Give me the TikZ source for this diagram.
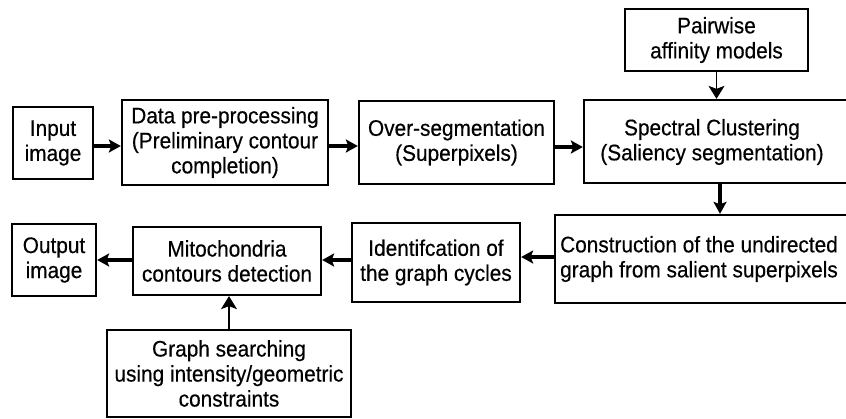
\documentclass[tikz,border=0pt]{standalone}
\usepackage{fontspec}
\setmainfont{Liberation Sans}[FakeStretch=0.925,FakeBold=0.4]
\usetikzlibrary{arrows.meta}
\begin{document}
\begin{tikzpicture}[x=1pt,y=-1pt,
  txt/.style={font=\fontsize{22.5}{25}\selectfont, align=center, inner sep=0pt},
  bbox/.style={draw, line width=2.3pt, inner sep=0pt, txt},
  tbox/.style={draw, line width=1.1pt, inner sep=0pt, txt},
  thickarr/.style={line width=3.8pt, -{Stealth[length=12pt,width=13pt,inset=2.5pt]}},
  thinarr/.style={line width=1.1pt, -{Stealth[length=13pt,width=16pt,inset=3pt]}}]
\useasboundingbox (0,0) rectangle (846,418);
\clip (0,0) rectangle (846,418);
% top row
\node[bbox, minimum width=80pt, minimum height=72pt] (in) at (53,143) {Input\\image};
\node[bbox, minimum width=206pt, minimum height=85pt] (data) at (225,142.5) {Data pre-processing\\(Preliminary contour\\completion)};
\node[bbox, minimum width=195pt, minimum height=83pt] (over) at (456.5,142.5) {Over-segmentation\\(Superpixels)};
\node[bbox, minimum width=268pt, minimum height=83pt] (spec) at (718,141.5) {};
\node[txt] (spect) at (712,142) {Spectral Clustering\\(Saliency segmentation)};
\node[tbox, minimum width=183pt, minimum height=62pt] (pair) at (716.5,40) {Pairwise\\affinity models};
% bottom row
\node[bbox, minimum width=294pt, minimum height=88pt] (cons) at (702,259) {};
\node[txt] (const) at (699,259) {Construction of the undirected\\graph from salient superpixels};
\node[bbox, minimum width=168pt, minimum height=79pt] (iden) at (436,262.5) {Identifcation of\\the graph cycles};
\node[bbox, minimum width=188pt, minimum height=68pt] (mito) at (227,261) {Mitochondria\\contours detection};
\node[bbox, minimum width=84pt, minimum height=72pt] (out) at (54,260) {Output\\image};
\node[tbox, minimum width=244pt, minimum height=87pt] (gs) at (229,373.5) {Graph searching\\using intensity/geometric\\constraints};
% connectors
\draw[thickarr] ([yshift=-3pt]in.east) -- ([yshift=-3pt]in.east -| data.west);
\draw[thickarr] ([yshift=-3.5pt]data.east) -- ([yshift=-3.5pt]data.east -| over.west);
\draw[thickarr] ([yshift=-4.5pt]over.east) -- ([yshift=-4.5pt]over.east -| spec.west);
\draw[thinarr] (pair.south) -- (pair.south |- spec.north);
\draw[thickarr] ([xshift=2pt]spec.south) -- ([xshift=2pt]spec.south |- cons.north);
\draw[thickarr] ([yshift=2pt]cons.west) -- ([yshift=2pt]cons.west -| iden.east);
\draw[thickarr] ([yshift=2.5pt]iden.west) -- ([yshift=2.5pt]iden.west -| mito.east);
\draw[thickarr] ([yshift=1pt]mito.west) -- ([yshift=1pt]mito.west -| out.east);
\draw[thinarr] (gs.north) -- (gs.north |- mito.south);
\end{tikzpicture}
\end{document}
